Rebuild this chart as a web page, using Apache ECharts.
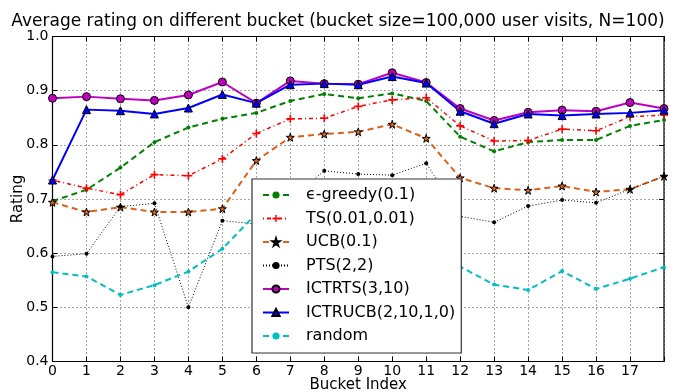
<!DOCTYPE html>
<html>
<head>
<meta charset="utf-8">
<script src="https://cdn.jsdelivr.net/npm/echarts@6/dist/echarts.min.js"></script>
<style>html,body{margin:0;padding:0;background:#fff}#c{width:676px;height:392px}</style>
</head>
<body>
<div id="c"></div>
<script>
const buckets = ['0','1','2','3','4','5','6','7','8','9','10','11','12','13','14','15','16','17','18'];
const yTicks = [0.4, 0.5, 0.6, 0.7, 0.8, 0.9, 1.0];
const eGreedy = [0.696,0.717,0.758,0.805,0.832,0.848,0.859,0.881,0.894,0.886,0.895,0.881,0.815,0.788,0.805,0.809,0.809,0.835,0.846];
const ts      = [0.735,0.720,0.708,0.745,0.743,0.774,0.821,0.848,0.849,0.871,0.883,0.887,0.835,0.807,0.808,0.829,0.826,0.852,0.855];
const ucb     = [0.694,0.676,0.685,0.676,0.676,0.682,0.771,0.814,0.820,0.824,0.838,0.812,0.739,0.720,0.716,0.724,0.713,0.718,0.742];
const pts     = [0.594,0.599,0.686,0.692,0.500,0.660,0.654,0.700,0.752,0.746,0.744,0.766,0.668,0.657,0.687,0.698,0.693,0.718,0.742];
const ictrts  = [0.886,0.889,0.885,0.882,0.892,0.916,0.877,0.918,0.913,0.912,0.933,0.915,0.867,0.845,0.860,0.864,0.862,0.878,0.867];
const ictrucb = [0.735,0.865,0.863,0.857,0.868,0.893,0.877,0.911,0.913,0.911,0.926,0.914,0.862,0.839,0.857,0.854,0.857,0.859,0.864];
const random  = [0.565,0.557,0.523,0.541,0.566,0.608,0.673,0.690,0.700,0.695,0.680,0.640,0.575,0.542,0.532,0.567,0.534,0.553,0.574];

const FONT = 'DejaVu Sans';
const STAR = 'path://M50,0 L61,35 L98,35 L68,57 L79,91 L50,70 L21,91 L32,57 L2,35 L39,35 Z';
const PLUS = 'path://M4,0 H6 V4 H10 V6 H6 V10 H4 V6 H0 V4 H4 Z';

function mk(name, data, color, lineType, width, symbol, size, fill, edge) {
  return {
    name, type: 'line', data,
    xAxisIndex: 0, yAxisIndex: 0,
    symbol, symbolSize: size, showSymbol: true,
    lineStyle: { color, width, type: lineType },
    itemStyle: { color: fill || color, borderColor: edge || (fill || color), borderWidth: edge ? 1 : 0 },
    emphasis: { disabled: true },
    animation: false
  };
}

const chart = echarts.init(document.getElementById('c'), null, { renderer: 'canvas' });
const axisLbl = { fontFamily: FONT, fontSize: 14, color: '#000' };
chart.setOption({
  animation: false,
  backgroundColor: '#fff',
  title: {
    text: 'Average rating on different bucket (bucket size=100,000 user visits, N=100)',
    left: 'center', top: 8,
    textStyle: { fontFamily: FONT, fontSize: 17, fontWeight: 'normal', color: '#000' }
  },
  grid: { left: 52.5, right: 12, top: 36.5, bottom: 30.5, show: true, borderColor: '#000', borderWidth: 1.2, backgroundColor: 'transparent', containLabel: false, outerBoundsMode: 'none' },
  legend: {
    orient: 'vertical', left: 252, top: 179,
    backgroundColor: '#fff', borderColor: '#333', borderWidth: 1.2, borderRadius: 0,
    padding: [8, 6, 9, 10],
    itemWidth: 26, itemHeight: 9, itemGap: 7.5,
    textStyle: { fontFamily: FONT, fontSize: 16, color: '#000', lineHeight: 16, padding: [0, 0, 0, 12] },
    z: 20
  },
  xAxis: [{
    type: 'category', data: buckets, boundaryGap: false,
    name: 'Bucket Index', nameLocation: 'middle', nameGap: 16, nameMoveOverlap: false,
    nameTextStyle: { fontFamily: FONT, fontSize: 15, color: '#000' },
    axisLine: { show: false },
    axisTick: { show: true, inside: true, length: 5, alignWithLabel: true, lineStyle: { color: '#000' } },
    axisLabel: Object.assign({ margin: 3, formatter: v => (v === '18' ? '' : v), interval: 0 }, axisLbl),
    splitLine: { show: true, lineStyle: { color: '#000', type: [1, 3], width: 1, opacity: 0.7 } }
  }, {
    type: 'category', data: buckets, boundaryGap: false, position: 'top',
    axisLine: { show: false }, axisLabel: { show: false },
    axisTick: { show: true, inside: true, length: 5, interval: 0, lineStyle: { color: '#000' } },
    splitLine: { show: false }
  }],
  yAxis: [{
    type: 'value', min: 0.4, max: 1.0, interval: 0.1,
    name: 'Rating', nameLocation: 'middle', nameGap: 27, nameMoveOverlap: false,
    nameTextStyle: { fontFamily: FONT, fontSize: 15, color: '#000' },
    axisLine: { show: false },
    axisTick: { show: true, inside: true, length: 5, lineStyle: { color: '#000' } },
    axisLabel: Object.assign({ margin: 4, formatter: v => v.toFixed(1) }, axisLbl),
    splitLine: { show: true, lineStyle: { color: '#000', type: [1, 3], width: 1, opacity: 0.7 } }
  }, {
    type: 'value', min: 0.4, max: 1.0, interval: 0.1, position: 'right',
    axisLine: { show: false }, axisLabel: { show: false },
    axisTick: { show: true, inside: true, length: 5, lineStyle: { color: '#000' } },
    splitLine: { show: false }
  }],
  series: [
    mk('ϵ-greedy(0.1)', eGreedy, '#008000', [6, 4], 2, 'circle', 4),
    mk('TS(0.01,0.01)', ts, '#ff0000', [1, 3, 4, 3], 1.5, PLUS, 8),
    mk('UCB(0.1)', ucb, '#e0601a', [6, 4], 2, STAR, 8, '#e0601a', '#000'),
    mk('PTS(2,2)', pts, '#000000', [1, 2], 1, 'circle', 4),
    mk('ICTRTS(3,10)', ictrts, '#bf00bf', 'solid', 2, 'circle', 8, '#bf00bf', '#000'),
    mk('ICTRUCB(2,10,1,0)', ictrucb, '#0000ff', 'solid', 2, 'triangle', 8, '#0000ff', '#000'),
    mk('random', random, '#00bfbf', [6, 4], 2, 'circle', 4)
  ]
});
</script>
</body>
</html>
